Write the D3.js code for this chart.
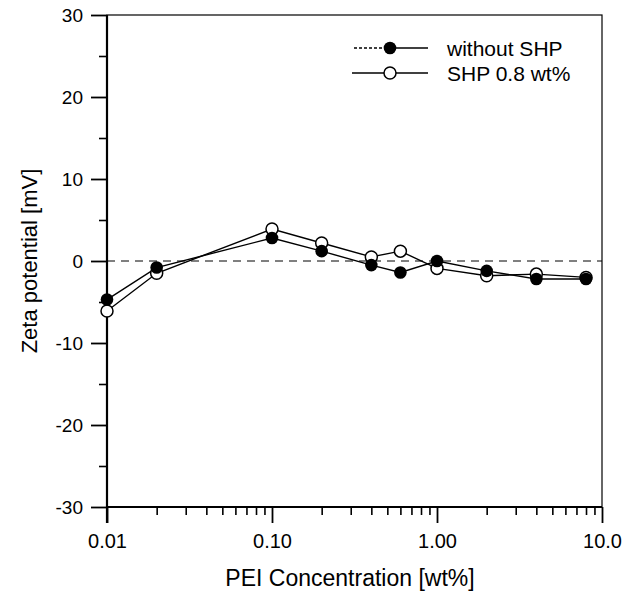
<!DOCTYPE html>
<html><head><meta charset="utf-8">
<script src="https://cdn.jsdelivr.net/npm/d3@7"></script>
<style>body{margin:0;background:#fff}svg{display:block}text{font-family:"Liberation Sans",Arial,sans-serif;fill:#000}</style>
</head><body>
<svg id="c" width="631" height="594"></svg>
<script>
const concentrations = [0.01, 0.02, 0.1, 0.2, 0.4, 0.6, 1.0, 2.0, 4.0, 8.0];
const withoutSHP = [-4.7, -0.8, 2.8, 1.2, -0.5, -1.4, 0.0, -1.2, -2.2, -2.2];
const withSHP = [-6.1, -1.5, 3.9, 2.2, 0.5, 1.2, -0.9, -1.8, -1.6, -2.0];
const xTickValues = [0.01, 0.1, 1, 10];
const xTickLabels = ["0.01", "0.10", "1.00", "10.0"];
const yTickValues = [-30, -20, -10, 0, 10, 20, 30];
const yTickLabels = ["-30", "-20", "-10", "0", "10", "20", "30"];
const seriesNames = ["without SHP", "SHP 0.8 wt%"];

const svg = d3.select("#c");
const L = 107, R = 602, T = 15, B = 507;
const x = d3.scaleLog().domain([0.01, 10]).range([L, R]);
const y = d3.scaleLinear().domain([-30, 30]).range([B, T]);

// frame
svg.append("rect").attr("x", L).attr("y", T).attr("width", R - L).attr("height", B - T)
  .attr("fill", "none").attr("stroke", "#000").attr("stroke-width", 1.2);
svg.append("line").attr("x1", L).attr("x2", L).attr("y1", T).attr("y2", B + 16).attr("stroke", "#000").attr("stroke-width", 2.2);
svg.append("line").attr("x1", L).attr("x2", R).attr("y1", B).attr("y2", B).attr("stroke", "#000").attr("stroke-width", 2.2);

// y axis
const yAxis = d3.axisLeft(y).tickValues(yTickValues).tickSize(16).tickPadding(8)
  .tickFormat((d, i) => yTickLabels[i]);
const gy = svg.append("g").attr("transform", `translate(${L},0)`).call(yAxis);
gy.select(".domain").remove();
gy.selectAll(".tick line").attr("stroke-width", 1.8);
gy.selectAll("text").style("font-size", "19px").style("font-family", '"Liberation Sans",Arial,sans-serif');
const yMinor = d3.axisLeft(y).tickValues([-25, -15, -5, 5, 15, 25]).tickSize(8).tickFormat("");
const gym = svg.append("g").attr("transform", `translate(${L},0)`).call(yMinor);
gym.select(".domain").remove();
gym.selectAll(".tick line").attr("stroke-width", 1.6);

// x axis
const xAxis = d3.axisBottom(x).tickValues(xTickValues).tickSize(16).tickPadding(11)
  .tickFormat((d, i) => xTickLabels[i]);
const gx = svg.append("g").attr("transform", `translate(0,${B})`).call(xAxis);
gx.select(".domain").remove();
gx.selectAll(".tick line").attr("stroke-width", 1.8);
gx.selectAll("text").style("font-size", "20px").style("font-family", '"Liberation Sans",Arial,sans-serif');
const minorX = [];
[0.01, 0.1, 1].forEach(dec => { for (let k = 2; k <= 9; k++) minorX.push(dec * k); });
const gxm = svg.append("g").attr("transform", `translate(0,${B})`)
  .call(d3.axisBottom(x).tickValues(minorX).tickSize(8).tickFormat(""));
gxm.select(".domain").remove();
gxm.selectAll(".tick line").attr("stroke-width", 1.6);

// axis titles
svg.append("text").attr("x", 350).attr("y", 586).attr("text-anchor", "middle")
  .style("font-size", "23px").text("PEI Concentration [wt%]");
svg.append("text").attr("transform", `translate(37,${(T + B) / 2}) rotate(-90)`)
  .attr("text-anchor", "middle").style("font-size", "22px").text("Zeta potential [mV]");

// zero line
svg.append("line").attr("x1", L).attr("x2", R).attr("y1", y(0)).attr("y2", y(0))
  .attr("stroke", "#000").attr("stroke-width", 1).attr("stroke-dasharray", "8,6");

// data
const line = d3.line().x(d => x(d[0])).y(d => y(d[1]));
const dFilled = concentrations.map((c, i) => [c, withoutSHP[i]]);
const dOpen = concentrations.map((c, i) => [c, withSHP[i]]);
svg.append("path").attr("d", line(dFilled)).attr("fill", "none").attr("stroke", "#000").attr("stroke-width", 1.4);
svg.append("path").attr("d", line(dOpen)).attr("fill", "none").attr("stroke", "#000").attr("stroke-width", 1.4);
svg.selectAll("circle.o").data(dOpen).enter().append("circle")
  .attr("cx", d => x(d[0])).attr("cy", d => y(d[1])).attr("r", 6)
  .attr("fill", "#fff").attr("stroke", "#000").attr("stroke-width", 1.5);
svg.selectAll("circle.f").data(dFilled).enter().append("circle")
  .attr("cx", d => x(d[0])).attr("cy", d => y(d[1])).attr("r", 6.3)
  .attr("fill", "#000");

// legend
const lg = svg.append("g");
const ly = [48, 73];
lg.append("line").attr("x1", 354).attr("x2", 390).attr("y1", ly[0]).attr("y2", ly[0])
  .attr("stroke", "#000").attr("stroke-width", 1.3).attr("stroke-dasharray", "3,2");
lg.append("line").attr("x1", 390).attr("x2", 428).attr("y1", ly[0]).attr("y2", ly[0])
  .attr("stroke", "#000").attr("stroke-width", 1.3);
lg.append("circle").attr("cx", 390).attr("cy", ly[0]).attr("r", 6.3).attr("fill", "#000");
lg.append("line").attr("x1", 352).attr("x2", 428).attr("y1", ly[1]).attr("y2", ly[1])
  .attr("stroke", "#000").attr("stroke-width", 1.3);
lg.append("circle").attr("cx", 390).attr("cy", ly[1]).attr("r", 6).attr("fill", "#fff")
  .attr("stroke", "#000").attr("stroke-width", 1.5);
seriesNames.forEach((n, i) => {
  lg.append("text").attr("x", 447).attr("y", ly[i]).attr("dy", "0.36em").style("font-size", "21px").text(n);
});
</script>
</body></html>
